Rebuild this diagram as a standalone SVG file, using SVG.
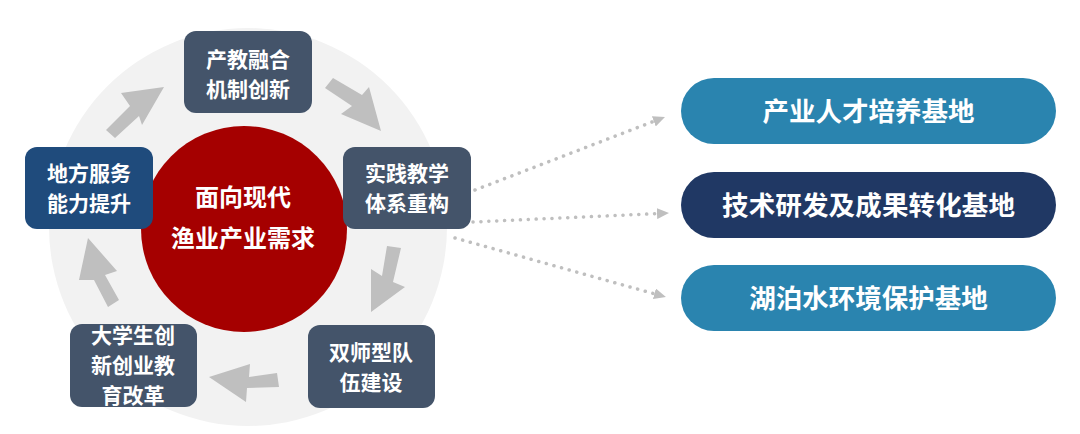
<svg xmlns="http://www.w3.org/2000/svg" width="1080" height="434" viewBox="0 0 1080 434">
  <defs>
    <style>
      .box { fill: #44546A; }
      .box2 { fill: #1F4B7C; }
      .pill { fill: #2A84AF; }
      .pill2 { fill: #203864; }
      .blk { fill: #BFBFBF; }
      .t { font-family: "Noto Sans CJK SC", "Noto Sans", sans-serif; font-weight: bold; fill: #FFFFFF; text-anchor: middle; }
      .tb { font-size: 21px; }
      .tc { font-size: 24px; }
      .tp { font-size: 26.5px; }
      .dot { fill: none; stroke: #BFBFBF; stroke-width: 3.5; stroke-linecap: round; stroke-dasharray: 0.1 7.8; }
    </style>
    <marker id="ah" viewBox="0 0 12 11" refX="0" refY="5.5" markerWidth="12" markerHeight="11" markerUnits="userSpaceOnUse" orient="auto">
      <path d="M0,0 L12,5.5 L0,11 Z" fill="#BFBFBF"/>
    </marker>
  </defs>

  <rect width="1080" height="434" fill="#FFFFFF"/>

  <g id="ring">
    <circle cx="248" cy="227" r="199" fill="#F2F2F2"/>
  </g>

  <g id="cycle-arrows">
    <polygon class="blk" points="164,87 121,93 130,106 106,130 115,138 139,116 142,125"/>
    <polygon class="blk" points="381,131 341,114 352,106 325,88 333,78 362,95 369,87"/>
    <polygon class="blk" points="387,246 401,248 393,282 405,287 371,312 371,269 382,276"/>
    <polygon class="blk" points="209,377 250,364 249,377 277,373 279,387 247,388 246,402"/>
    <polygon class="blk" points="88,238 117,271 105,275 119,300 108,307 94,280 79,280"/>
  </g>

  <g id="center">
    <circle cx="244" cy="229" r="103" fill="#A50000"/>
    <text class="t tc" x="243" y="206">面向现代</text>
    <text class="t tc" x="243" y="247">渔业产业需求</text>
  </g>

  <g id="node-chanjiao">
    <rect class="box" x="184" y="31" width="128" height="82" rx="12"/>
    <text class="t tb" x="248" y="67">产教融合</text>
    <text class="t tb" x="248" y="97">机制创新</text>
  </g>

  <g id="node-shijian">
    <rect class="box" x="343" y="147" width="128" height="82" rx="12"/>
    <text class="t tb" x="407" y="181">实践教学</text>
    <text class="t tb" x="407" y="211">体系重构</text>
  </g>

  <g id="node-shuangshi">
    <rect class="box" x="308" y="325" width="127" height="83" rx="12"/>
    <text class="t tb" x="371" y="360">双师型队</text>
    <text class="t tb" x="371" y="390">伍建设</text>
  </g>

  <g id="node-daxuesheng">
    <rect class="box" x="70" y="324" width="127" height="83" rx="12"/>
    <text class="t tb" x="133" y="343">大学生创</text>
    <text class="t tb" x="133" y="373">新创业教</text>
    <text class="t tb" x="133" y="403">育改革</text>
  </g>

  <g id="node-difang">
    <rect class="box2" x="25" y="147" width="128" height="82" rx="12"/>
    <text class="t tb" x="89" y="181">地方服务</text>
    <text class="t tb" x="89" y="211">能力提升</text>
  </g>

  <g id="connectors">
    <path class="dot" d="M475,190 L653.8,121.3" marker-end="url(#ah)"/>
    <path class="dot" d="M473,222 L657,213.6" marker-end="url(#ah)"/>
    <path class="dot" d="M455,238 L654.4,293.8" marker-end="url(#ah)"/>
  </g>

  <g id="base-talent">
    <rect class="pill" x="681" y="78" width="375" height="66" rx="33"/>
    <text class="t tp" x="868.5" y="121">产业人才培养基地</text>
  </g>

  <g id="base-tech">
    <rect class="pill2" x="681" y="172" width="375" height="66" rx="33"/>
    <text class="t tp" x="868.5" y="215" textLength="293" lengthAdjust="spacing">技术研发及成果转化基地</text>
  </g>

  <g id="base-lake">
    <rect class="pill" x="681" y="265" width="375" height="66" rx="33"/>
    <text class="t tp" x="868.5" y="308">湖泊水环境保护基地</text>
  </g>
</svg>
